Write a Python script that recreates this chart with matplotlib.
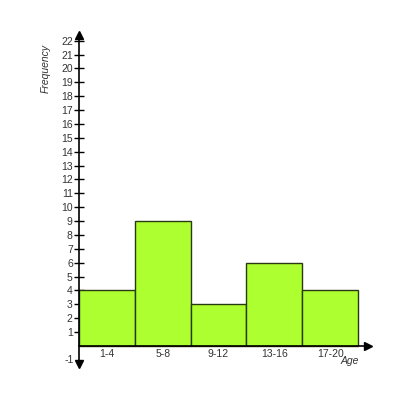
import matplotlib
matplotlib.use("Agg")
import matplotlib.pyplot as plt
import numpy as np

# histogram data
age_groups = ["1-4", "5-8", "9-12", "13-16", "17-20"]
frequency = [4, 9, 3, 6, 4]
y_ticks = list(range(1, 23))

plt.rcParams["font.family"] = ["Liberation Sans", "DejaVu Sans"]

fig = plt.figure(figsize=(4, 4), dpi=100)
ax = fig.add_axes([0.1, 0.075, 0.85, 0.85])
ax.set_xlim(-0.699, 5.394)
ax.set_ylim(-1.73, 22.77)

x = np.arange(len(age_groups))
ax.bar(x, frequency, width=1, align="edge", color="#adff2f",
       edgecolor="#2a3a10", linewidth=1.0, zorder=2)

# axes through origin with arrows
for side in ("top", "right"):
    ax.spines[side].set_visible(False)
ax.spines["left"].set_position(("data", 0))
ax.spines["bottom"].set_position(("data", 0))
ax.spines["left"].set_bounds(-1.3, 22.4)
ax.spines["bottom"].set_bounds(0, 5.18)
for s in ("left", "bottom"):
    ax.spines[s].set_linewidth(1.2)
    ax.spines[s].set_zorder(3)
ax.plot([0], [22.4], marker="^", color="black", markersize=6, clip_on=False, zorder=4)
ax.plot([0], [-1.3], marker="v", color="black", markersize=6, clip_on=False, zorder=4)
ax.plot([5.18], [0], marker=">", color="black", markersize=6, clip_on=False, zorder=4)

ax.set_yticks(y_ticks)
ax.set_yticklabels([str(v) for v in y_ticks])
ax.tick_params(axis="y", direction="inout", length=7, width=1, labelsize=7.5,
               labelcolor="#333333", pad=1)
ax.text(-0.1, -1, "-1", ha="right", va="center", fontsize=7.5, color="#333333")

ax.set_xticks(x + 0.5)
ax.set_xticklabels(age_groups)
ax.tick_params(axis="x", length=0, labelsize=7.5, labelcolor="#333333", pad=2)

ax.text(4.68, -0.75, "Age", ha="left", va="top", fontsize=7.5, style="italic",
        color="#333333")
ax.text(-0.6, 20.0, "Frequency", ha="center", va="center", rotation=90,
        fontsize=7.5, style="italic", color="#333333")

fig.savefig("out.png", dpi=100)
